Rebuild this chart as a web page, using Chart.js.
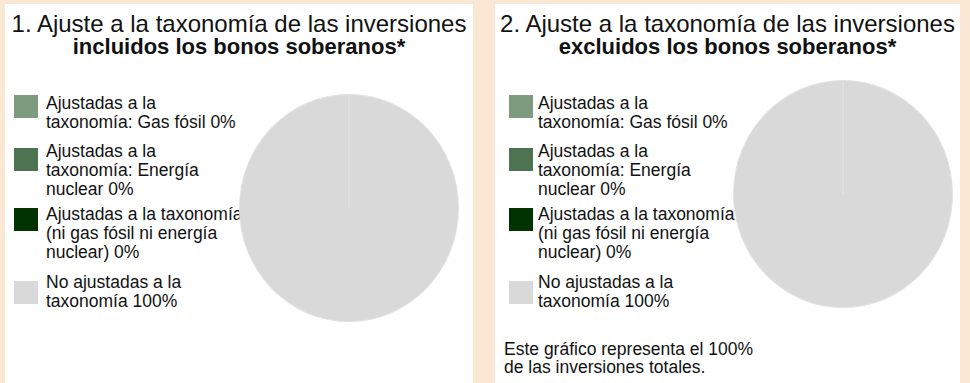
<!DOCTYPE html>
<html lang="es">
<head>
<meta charset="utf-8">
<script src="https://cdn.jsdelivr.net/npm/chart.js@4/dist/chart.umd.min.js"></script>
<style>
  html, body { margin: 0; padding: 0; }
  body {
    width: 970px; height: 383px; overflow: hidden;
    background: #fae8d5;
    font-family: "Liberation Sans", Arial, sans-serif;
    color: #111;
    position: relative;
  }
  .panel { position: absolute; top: 4px; height: 379px; background: #fff; }
  .title { position: absolute; left: 0; right: 0; text-align: center; white-space: nowrap; }
  .t1 { top: 6px; font-size: 24px; line-height: 28px; }
  .t2 { top: 30px; font-size: 22px; line-height: 26px; font-weight: bold; }
  .swatch { position: absolute; width: 24px; height: 23px; }
  .ltext { position: absolute; font-size: 17.5px; line-height: 19px; white-space: pre; }
  .note { position: absolute; font-size: 17.5px; line-height: 18.5px; white-space: pre; }
  .pie { position: absolute; width: 220px; height: 220px; transform: scaleY(1.037); transform-origin: 50% 50%; }
</style>
</head>
<body>
<script>
// Categories of the taxonomy alignment breakdown
const categories = [
  'Ajustadas a la\ntaxonomía: Gas fósil',
  'Ajustadas a la\ntaxonomía: Energía\nnuclear',
  'Ajustadas a la taxonomía\n(ni gas fósil ni energía\nnuclear)',
  'No ajustadas a la\ntaxonomía'
];
// Share of investments (%) per category
const valuesInclSovereign = [0, 0, 0, 100];
const valuesExclSovereign = [0, 0, 0, 100];
const sliceColors = ['#7f9b7f', '#4e7350', '#003300', '#d9d9d9'];

const panelTitles = [
  '1. Ajuste a la taxonomía de las inversiones',
  '2. Ajuste a la taxonomía de las inversiones'
];
const panelSubtitles = [
  'incluidos los bonos soberanos*',
  'excluidos los bonos soberanos*'
];
const footnote = 'Este gráfico representa el 100%\nde las inversiones totales.';

// Layout of each panel (pixels)
const panels = [
  { left: 5,   width: 468, values: valuesInclSovereign, swatchX: 9,  textX: 41, pieCx: 343.5, pieCy: 204, note: false },
  { left: 495, width: 465, values: valuesExclSovereign, swatchX: 14, textX: 43, pieCx: 347.5, pieCy: 190, note: true }
];
// vertical placement of legend rows: swatch top and first-line baseline (panel coords)
const legendRows = [
  { swatch: 91,  baseline: 106 },
  { swatch: 144, baseline: 154 },
  { swatch: 204, baseline: 217 },
  { swatch: 277, baseline: 285 }
];

panels.forEach((p, i) => {
  const el = document.createElement('div');
  el.className = 'panel';
  el.style.left = p.left + 'px';
  el.style.width = p.width + 'px';
  document.body.appendChild(el);

  const t1 = document.createElement('div');
  t1.className = 'title t1';
  t1.textContent = panelTitles[i];
  el.appendChild(t1);
  const t2 = document.createElement('div');
  t2.className = 'title t2';
  t2.textContent = panelSubtitles[i];
  el.appendChild(t2);

  categories.forEach((cat, k) => {
    const sw = document.createElement('div');
    sw.className = 'swatch';
    sw.style.left = p.swatchX + 'px';
    sw.style.top = legendRows[k].swatch + 'px';
    sw.style.background = sliceColors[k];
    el.appendChild(sw);
    const tx = document.createElement('div');
    tx.className = 'ltext';
    tx.style.left = p.textX + 'px';
    tx.style.top = (legendRows[k].baseline - 15.6) + 'px';
    tx.textContent = cat + ' ' + p.values[k] + '%';
    el.appendChild(tx);
  });

  if (p.note) {
    const n = document.createElement('div');
    n.className = 'note';
    n.style.left = '9px';
    n.style.top = (351 - 15.3) + 'px';
    n.textContent = footnote;
    el.appendChild(n);
  }

  const box = document.createElement('div');
  box.className = 'pie';
  box.style.left = (p.pieCx - 110) + 'px';
  box.style.top = (p.pieCy - 110) + 'px';
  const cv = document.createElement('canvas');
  box.appendChild(cv);
  el.appendChild(box);

  new Chart(cv, {
    type: 'pie',
    data: {
      labels: categories,
      datasets: [{
        data: p.values,
        backgroundColor: sliceColors,
        borderColor: '#e2e2e2',
        borderWidth: 1
      }]
    },
    options: {
      responsive: true,
      maintainAspectRatio: false,
      animation: false,
      events: [],
      layout: { padding: 0 },
      plugins: { legend: { display: false }, tooltip: { enabled: false } }
    }
  });
});
</script>
</body>
</html>
